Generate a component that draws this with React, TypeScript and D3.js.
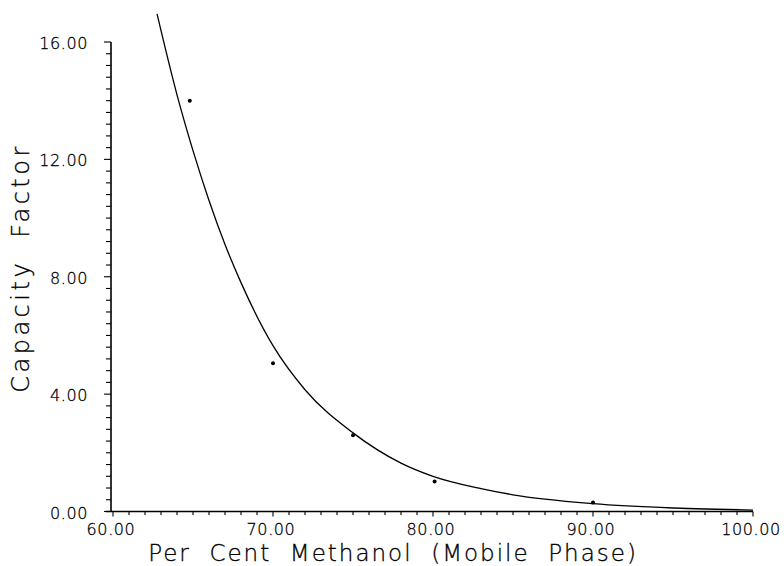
import React, { useEffect, useRef } from 'react';
import * as d3 from 'd3';

// measured points (per cent methanol, capacity factor)
const methanol = [64.8, 70, 75, 80.1, 90];
const capacity = [14.0, 5.05, 2.6, 1.02, 0.31];

// fitted curve
const curveX = [62.75, 64, 65, 66, 67, 68, 70, 72, 75, 78, 80, 83, 85, 90, 95, 100];
const curveY = [16.96, 14.2, 12.3, 10.6, 9.1, 7.8, 5.65, 4.15, 2.68, 1.65, 1.2, 0.78, 0.57, 0.27, 0.12, 0.05];

const xTicks = [60, 70, 80, 90, 100];
const yTicks = [0, 4, 8, 12, 16];

const xTitle = 'Per  Cent  Methanol  (Mobile  Phase)';
const yTitle = 'Capacity  Factor';

const FONT = '"DejaVu Sans", sans-serif';

const App = () => {
    const svgRef = useRef<SVGSVGElement>(null);

    useEffect(() => {
        const svg = d3.select(svgRef.current);
        svg.selectAll('*').remove();

        const x = d3.scaleLinear().domain([60, 100]).range([113, 753]);
        const y = d3.scaleLinear().domain([0, 16]).range([511.5, 42]);

        // x axis
        const gx = svg.append('g');
        gx.append('line')
            .attr('x1', 106).attr('x2', x(100))
            .attr('y1', y(0)).attr('y2', y(0))
            .attr('stroke', '#000').attr('stroke-width', 1.6);
        gx.selectAll('.xminor')
            .data(d3.range(60, 101, 1))
            .enter()
            .append('line')
            .attr('x1', (d) => x(d)).attr('x2', (d) => x(d))
            .attr('y1', y(0)).attr('y2', (d) => y(0) + (d % 10 === 0 ? 5 : 3.5))
            .attr('stroke', '#000').attr('stroke-width', 1.1);
        gx.selectAll('.xlabel')
            .data(xTicks)
            .enter()
            .append('text')
            .attr('x', (d) => x(d) - 2)
            .attr('y', 535)
            .attr('text-anchor', 'middle')
            .attr('font-family', FONT)
            .attr('font-weight', 200)
            .attr('font-size', 16)
            .attr('letter-spacing', 0.6)
            .attr('fill', '#000')
            .attr('stroke', '#000')
            .attr('stroke-width', 0.3)
            .text((d) => d3.format('.2f')(d));

        // y axis
        const gy = svg.append('g');
        gy.append('line')
            .attr('x1', 111).attr('x2', 111)
            .attr('y1', y(16)).attr('y2', y(0))
            .attr('stroke', '#000').attr('stroke-width', 1.6);
        gy.selectAll('.yminor')
            .data(d3.range(0, 41, 1).map((i) => i * 0.4))
            .enter()
            .append('line')
            .attr('x1', (d, i) => 111 - (i % 10 === 0 ? 7 : 5)).attr('x2', 111)
            .attr('y1', (d) => y(d)).attr('y2', (d) => y(d))
            .attr('stroke', '#000').attr('stroke-width', 1.1);
        gy.selectAll('.ylabel')
            .data(yTicks)
            .enter()
            .append('text')
            .attr('x', 88)
            .attr('y', (d) => y(d) + 7)
            .attr('text-anchor', 'end')
            .attr('font-family', FONT)
            .attr('font-weight', 200)
            .attr('font-size', 16)
            .attr('letter-spacing', 0.6)
            .attr('fill', '#000')
            .attr('stroke', '#000')
            .attr('stroke-width', 0.3)
            .text((d) => d3.format('.2f')(d));

        // titles
        svg.append('text')
            .attr('x', 393)
            .attr('y', 561)
            .attr('text-anchor', 'middle')
            .attr('font-family', FONT)
            .attr('font-weight', 200)
            .attr('font-size', 23)
            .attr('letter-spacing', 2)
            .attr('fill', '#000')
            .attr('stroke', '#000')
            .attr('stroke-width', 0.3)
            .style('white-space', 'pre')
            .text(xTitle);

        svg.append('text')
            .attr('transform', 'translate(29, 268) rotate(-90)')
            .attr('text-anchor', 'middle')
            .attr('font-family', FONT)
            .attr('font-weight', 200)
            .attr('font-size', 24)
            .attr('letter-spacing', 3.5)
            .attr('fill', '#000')
            .attr('stroke', '#000')
            .attr('stroke-width', 0.3)
            .style('white-space', 'pre')
            .text(yTitle);

        // fitted curve
        const line = d3.line<number>()
            .curve(d3.curveMonotoneX)
            .x((d, i) => x(curveX[i]))
            .y((d) => y(d));
        svg.append('path')
            .attr('d', line(curveY))
            .attr('fill', 'none')
            .attr('stroke', '#000')
            .attr('stroke-width', 1.3);

        // data points
        svg.selectAll('.pt')
            .data(methanol)
            .enter()
            .append('circle')
            .attr('cx', (d) => x(d))
            .attr('cy', (d, i) => y(capacity[i]))
            .attr('r', 2)
            .attr('fill', '#000');
    }, []);

    return (
        <svg
            ref={svgRef}
            width={784}
            height={566}
            style={{ position: 'absolute', left: 0, top: 0, background: '#fff' }}
        ></svg>
    );
};

export default App;
